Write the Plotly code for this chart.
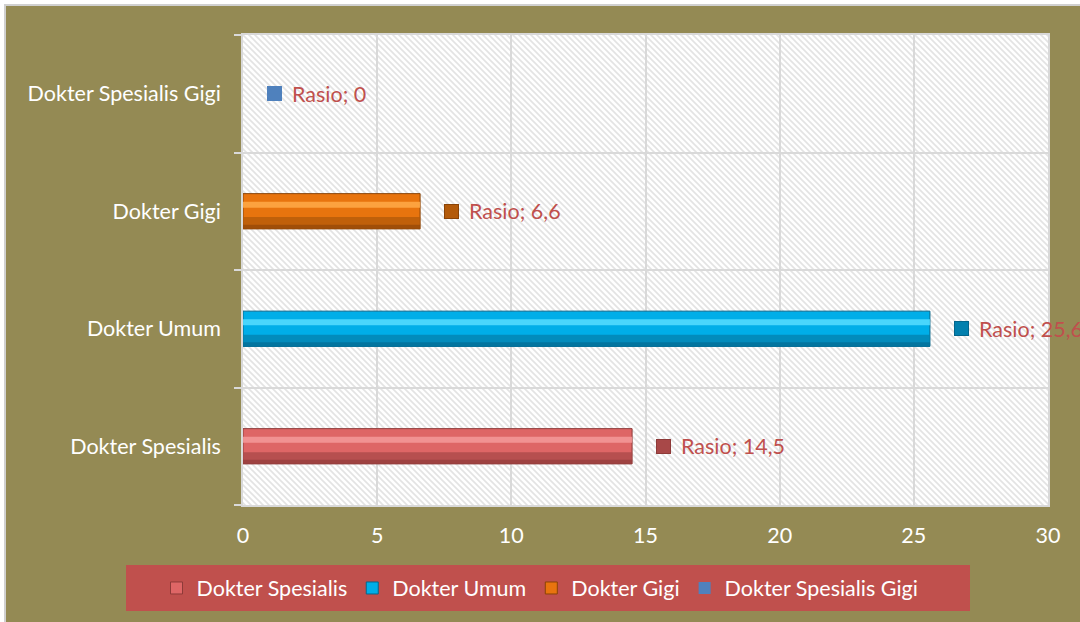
import base64
import plotly.graph_objects as go

# ---- data ----
categories = ["Dokter Spesialis", "Dokter Umum", "Dokter Gigi", "Dokter Spesialis Gigi"]
values = [14.5, 25.6, 6.6, 0]
label_prefix = "Rasio"
x_ticks = [0, 5, 10, 15, 20, 25, 30]

# ---- styles ----
body_colors = ["#DE6666", "#00AEE8", "#E8740E", "#4F81BD"]
light_colors = ["#F49A9A", "#56DDFF", "#FFAA48", "#6E9AD0"]
dark_colors = ["#8E3A38", "#04668C", "#8A4306", "#4F81BD"]
shade_colors = ["#A84848", "#0380AE", "#B35A0A", "#4F81BD"]
olive = "#948A54"
red_box = "#C0504D"
grid = "#D9D9D9"
font_family = "Lato, 'Open Sans', sans-serif"
fs = 21.5

W, H = 1080, 622
L, R, T, B = 243, 32, 35, 117
pw, ph = W - L - R, H - T - B

def px_x(p):
    return (p - L) / pw

def px_y(p):
    return (H - B - p) / ph

ypos = list(range(len(categories)))
bw = 0.30

fig = go.Figure()
for i, (cat, v) in enumerate(zip(categories, values)):
    fig.add_trace(go.Bar(
        y=[ypos[i]], x=[v], orientation="h", width=bw, name=cat,
        marker=dict(color=body_colors[i],
                    line=dict(color=dark_colors[i], width=1 if v > 0 else 0)),
        showlegend=True, legendrank=i, hoverinfo="skip",
    ))
    if v > 0:
        # lower shading
        fig.add_trace(go.Bar(
            y=[ypos[i]], x=[v], orientation="h", width=0.10, offset=-bw / 2,
            marker=dict(color=shade_colors[i], line=dict(width=0)),
            showlegend=False, hoverinfo="skip", opacity=0.75,
        ))
        fig.add_trace(go.Bar(
            y=[ypos[i]], x=[v], orientation="h", width=0.035, offset=-bw / 2,
            marker=dict(color=dark_colors[i], line=dict(width=0)),
            showlegend=False, hoverinfo="skip", opacity=0.6,
        ))
        # upper highlight
        fig.add_trace(go.Bar(
            y=[ypos[i]], x=[v], orientation="h", width=0.05, offset=0.03,
            marker=dict(color=light_colors[i], line=dict(width=0)),
            showlegend=False, hoverinfo="skip", opacity=0.85,
        ))

# data labels: marker square + text
annotations = []
for i, v in enumerate(values):
    txt = f"{label_prefix}; {v:g}".replace(".", ",")
    annotations.append(dict(
        x=v, y=ypos[i], xref="x", yref="y", text=" ", showarrow=False,
        xanchor="left", yanchor="middle", xshift=24, width=13, height=13,
        bgcolor=shade_colors[i], bordercolor=dark_colors[i], borderwidth=1,
        borderpad=0, font=dict(size=4),
    ))
    annotations.append(dict(
        x=v, y=ypos[i], xref="x", yref="y", text=txt, showarrow=False,
        xanchor="left", yanchor="middle", xshift=47,
        font=dict(family=font_family, size=fs, color=red_box),
    ))

# hatch pattern background image
svg = (
    f"<svg xmlns='http://www.w3.org/2000/svg' width='{pw}' height='{ph}'>"
    "<defs><pattern id='p' width='6' height='6' patternUnits='userSpaceOnUse'>"
    "<rect width='6' height='6' fill='white'/>"
    "<path d='M-1,-1 L7,7 M-1,5 L1,7 M5,-1 L7,1' stroke='#E3E3E3' stroke-width='1.6'/>"
    "</pattern></defs>"
    f"<rect width='{pw}' height='{ph}' fill='url(#p)'/></svg>"
)
src = "data:image/svg+xml;base64," + base64.b64encode(svg.encode()).decode()

shapes = [
    dict(type="rect", xref="paper", yref="paper", layer="below",
         x0=px_x(5), x1=px_x(W + 20), y0=px_y(H + 20), y1=px_y(5),
         fillcolor=olive, line=dict(color="#D0D0D0", width=2)),
    dict(type="rect", xref="paper", yref="paper", layer="below",
         x0=px_x(126), x1=px_x(970), y0=px_y(611), y1=px_y(565),
         fillcolor=red_box, line=dict(width=0)),
]

fig.update_layout(
    width=W, height=H,
    margin=dict(l=L, r=R, t=T, b=B),
    paper_bgcolor="white",
    plot_bgcolor="white",
    barmode="overlay",
    font=dict(family=font_family, size=fs, color="white"),
    images=[dict(source=src, xref="x", yref="y", x=0, y=3.5, sizex=30, sizey=4,
                 sizing="stretch", layer="below", xanchor="left", yanchor="top")],
    shapes=shapes,
    annotations=annotations,
    legend=dict(
        orientation="h", x=px_x(540), xanchor="center", y=px_y(588), yanchor="middle",
        bgcolor="rgba(0,0,0,0)", font=dict(family=font_family, size=fs, color="white"),
        traceorder="normal", itemclick=False, itemwidth=30,
    ),
    xaxis=dict(
        range=[0, 30], tickvals=x_ticks, showgrid=True, gridcolor=grid, gridwidth=1.5,
        zeroline=False, showline=True, linecolor=grid, linewidth=1.5, mirror=True,
        ticks="", ticklabelstandoff=10, tickfont=dict(color="white"),
    ),
    yaxis=dict(
        range=[-0.5, 3.5], tickvals=ypos, ticktext=categories, showgrid=False,
        zeroline=False, showline=True, linecolor=grid, linewidth=1.5, mirror=True,
        ticks="", ticklabelstandoff=16, tickfont=dict(color="white"),
        minor=dict(tickvals=[-0.5, 0.5, 1.5, 2.5, 3.5], ticks="outside", ticklen=7,
                   tickcolor=grid, tickwidth=1.5, showgrid=True, gridcolor=grid, gridwidth=1.5),
    ),
)

fig.write_html("out.html", config={"displayModeBar": False},
               post_script="document.body.style.margin='0px';")
